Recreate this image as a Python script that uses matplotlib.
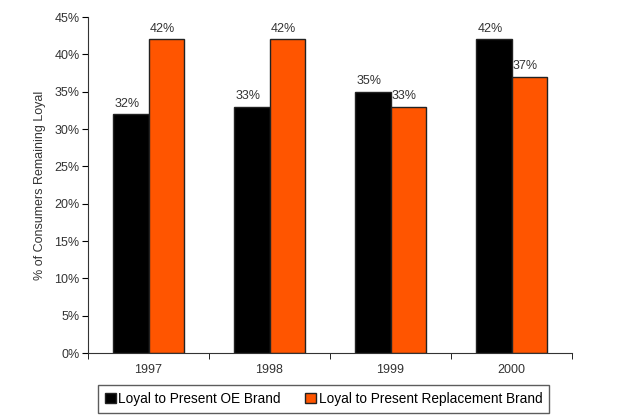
import matplotlib.pyplot as plt
import numpy as np

plt.rcParams['font.family'] = ['Liberation Sans', 'DejaVu Sans']

years = ['1997', '1998', '1999', '2000']
oe_brand = [32, 33, 35, 42]
replacement = [42, 42, 33, 37]

fig = plt.figure(figsize=(6.26, 4.18), dpi=100)
ax = fig.add_axes([88/626, 65/418, 484/626, 336/418])

x = np.arange(len(years))
w = 0.29
b1 = ax.bar(x - w/2, oe_brand, w, color='black', edgecolor='#222222', linewidth=1, label='Loyal to Present OE Brand')
b2 = ax.bar(x + w/2, replacement, w, color='#ff5500', edgecolor='#222222', linewidth=1, label='Loyal to Present Replacement Brand')

for bars in (b1, b2):
    for r in bars:
        ax.text(r.get_x() + r.get_width()/2 - 0.03, r.get_height() + 0.6, f'{r.get_height():.0f}%',
                ha='center', va='bottom', fontsize=9, color='#333333')

ax.set_xlim(-0.5, 3.5)
ax.set_ylim(0, 45)
ax.set_yticks(range(0, 46, 5))
ax.set_yticklabels([f'{v}%' for v in range(0, 46, 5)], fontsize=9, color='#333333')
ax.set_xticks(x)
ax.set_xticklabels(years, fontsize=9, color='#333333')
ax.set_xticks(np.arange(-0.5, 4, 1), minor=True)
ax.tick_params(axis='x', which='major', length=0, pad=8)
ax.tick_params(axis='x', which='minor', length=4, direction='out')
ax.tick_params(axis='y', length=4, direction='out', pad=2)
ax.spines['top'].set_visible(False)
ax.spines['right'].set_visible(False)
ax.spines['left'].set_color('#333333')
ax.spines['bottom'].set_color('#333333')
ax.set_ylabel('% of Consumers Remaining Loyal', fontsize=9, color='#333333', labelpad=6)

leg = ax.legend(loc='upper center', bbox_to_anchor=(0.487, -0.075), ncol=2, fontsize=9.8,
                frameon=True, fancybox=False, edgecolor='#333333', handlelength=0.8,
                handleheight=0.8, handletextpad=0.2, columnspacing=1.8, borderpad=0.5)
leg.get_frame().set_linewidth(1)

fig.savefig('out.png', dpi=100)
